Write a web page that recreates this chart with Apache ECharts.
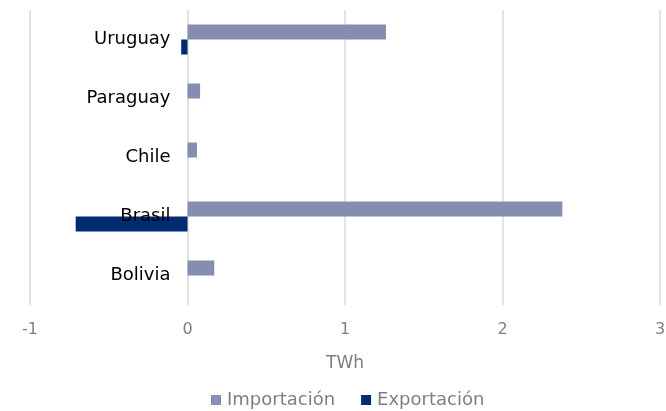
<!DOCTYPE html>
<html>
<head>
<meta charset="utf-8">
<script src="https://cdn.jsdelivr.net/npm/echarts@6/dist/echarts.min.js"></script>
<style>
  html, body { margin: 0; padding: 0; background: #fff; }
  #chart { width: 666px; height: 411px; }
</style>
</head>
<body>
<div id="chart"></div>
<script>
const countries = ['Bolivia', 'Brasil', 'Chile', 'Paraguay', 'Uruguay']
const importacion = [0.17, 2.38, 0.06, 0.08, 1.26]
const exportacion = [0, -0.71, 0, 0, -0.04]
const xTicks = [-1, 0, 1, 2, 3]

// plot spans x=30..660, so value 0 sits 157.5px right of the left edge
const gridLeft = 30
const gridRight = 6
const zeroOffset = (666 - gridLeft - gridRight) * (0 - xTicks[0]) / (xTicks[xTicks.length - 1] - xTicks[0])

const chart = echarts.init(document.getElementById('chart'))
chart.setOption({
  animation: false,
  textStyle: { fontFamily: 'DejaVu Sans' },
  grid: { left: gridLeft, right: gridRight, top: 10, bottom: 106, containLabel: false, outerBoundsMode: 'none' },
  legend: {
    top: 386,
    left: 206,
    itemWidth: 10,
    itemHeight: 10,
    itemGap: 26,
    icon: 'rect',
    textStyle: { color: '#7f7f7f', fontSize: 18, padding: [0, 0, 0, 1] },
    data: ['Importación', 'Exportación'],
  },
  xAxis: {
    type: 'value',
    min: xTicks[0],
    max: xTicks[xTicks.length - 1],
    interval: 1,
    name: 'TWh',
    nameLocation: 'middle',
    nameGap: 50,
    nameTextStyle: { color: '#7f7f7f', fontSize: 17 },
    axisLine: { show: false },
    axisTick: { show: false },
    axisLabel: { color: '#7f7f7f', fontSize: 16, margin: 17 },
    splitLine: { lineStyle: { color: '#d9d9d9', width: 1.5 } },
  },
  yAxis: {
    type: 'category',
    data: countries,
    z: 5,
    offset: -zeroOffset,
    axisLine: { show: false, onZero: false },
    axisTick: { show: false },
    axisLabel: { color: '#000', fontSize: 18, margin: 17, padding: [3, 0, 0, 0] },
  },
  series: [
    {
      name: 'Importación',
      type: 'bar',
      data: importacion,
      barWidth: 15,
      barGap: '0%',
      itemStyle: { color: '#858db0' },
    },
    {
      name: 'Exportación',
      type: 'bar',
      data: exportacion,
      barWidth: 15,
      barGap: '0%',
      itemStyle: { color: '#002b72' },
    },
  ],
})
</script>
</body>
</html>
